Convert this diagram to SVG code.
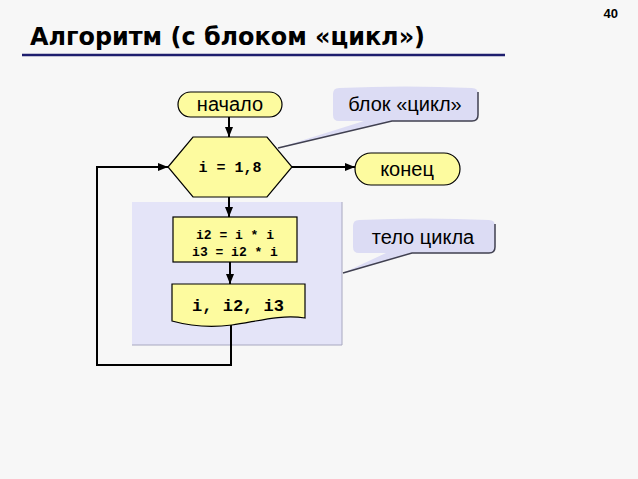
<svg xmlns="http://www.w3.org/2000/svg" width="638" height="479" viewBox="0 0 638 479">
<defs>
<marker id="arr" markerWidth="10" markerHeight="8" refX="10" refY="4" orient="auto" markerUnits="userSpaceOnUse">
<path d="M0,0 L10,4 L0,8 Z" fill="#000"/>
</marker>
<style>
.node{fill:#fdfb9f;stroke:#000;stroke-width:1.2}
.lbl{font-family:"Liberation Sans",Arial,sans-serif;font-size:20px;fill:#000;text-anchor:middle}
.code{font-family:"Liberation Mono","Courier New",monospace;font-weight:bold;fill:#000;text-anchor:middle}
.conn{fill:none;stroke:#000;stroke-width:2}
.call{fill:#dcdcf4;stroke:none}
.calledge{fill:none;stroke:#404050;stroke-width:1.5}
</style>
</defs>
<rect width="638" height="479" fill="#f7f7f7"/>
<text x="618" y="18" font-family="'Liberation Sans',Arial,sans-serif" font-weight="bold" font-size="13" text-anchor="end">40</text>
<text x="30" y="45" font-family="'DejaVu Sans',sans-serif" font-weight="bold" font-size="24" textLength="395" lengthAdjust="spacingAndGlyphs">Алгоритм (с блоком «цикл»)</text>
<line x1="22" y1="55" x2="505" y2="55" stroke="#1e1e6e" stroke-width="2.5"/>

<g id="body">
<rect x="132" y="202" width="210" height="143" fill="#e4e4f8"/>
<path d="M342,202 V345 H132" fill="none" stroke="#a8a8c0" stroke-width="1"/>
</g>

<g id="connectors">
<line class="conn" x1="229" y1="117" x2="229" y2="137" marker-end="url(#arr)"/>
<line class="conn" x1="292" y1="167" x2="355" y2="167" marker-end="url(#arr)"/>
<line class="conn" x1="229" y1="197" x2="229" y2="217" marker-end="url(#arr)"/>
<line class="conn" x1="230" y1="262" x2="230" y2="284" marker-end="url(#arr)"/>
<path class="conn" d="M231,325 V365 H97 V167 H168" marker-end="url(#arr)"/>
</g>

<g id="start">
<rect class="node" x="178" y="92" width="104" height="25" rx="12.5"/>
<text class="lbl" x="230" y="111">начало</text>
</g>

<g id="loop">
<polygon class="node" points="168,167 193,137 267,137 292,167 267,197 193,197"/>
<text class="code" x="230" y="172" font-size="15">i = 1,8</text>
</g>

<g id="end">
<rect class="node" x="355" y="153" width="105" height="32" rx="16"/>
<text class="lbl" x="407" y="176">конец</text>
</g>

<g id="process">
<rect class="node" x="173" y="217" width="124" height="45"/>
<text class="code" x="235" y="239" font-size="13">i2 = i * i</text>
<text class="code" x="235" y="256" font-size="13">i3 = i2 * i</text>
</g>

<g id="output">
<path class="node" d="M172,284 H305 V318 C280,314 255,322 232,325 C210,328 190,326 172,321 Z"/>
<text class="code" x="238" y="311" font-size="17">i, i2, i3</text>
</g>

<g id="callout-loop">
<path class="call" d="M339,88 Q405,85 472,88 Q478,88 478,94 V115 Q478,121 472,121 H392 L278,148 L364,121 H339 Q333,121 333,115 V94 Q333,88 339,88 Z"/>
<path class="calledge" d="M478,92 V115 Q478,121 472,121 H392 L278,148"/>
<text class="lbl" x="405" y="111">блок «цикл»</text>
</g>

<g id="callout-body">
<path class="call" d="M359,220 Q424,217 489,220 Q495,220 495,226 V247 Q495,253 489,253 H412 L343,273 L386,253 H359 Q353,253 353,247 V226 Q353,220 359,220 Z"/>
<path class="calledge" d="M495,224 V247 Q495,253 489,253 H412 L343,273"/>
<text class="lbl" x="423" y="244">тело цикла</text>
</g>
</svg>
